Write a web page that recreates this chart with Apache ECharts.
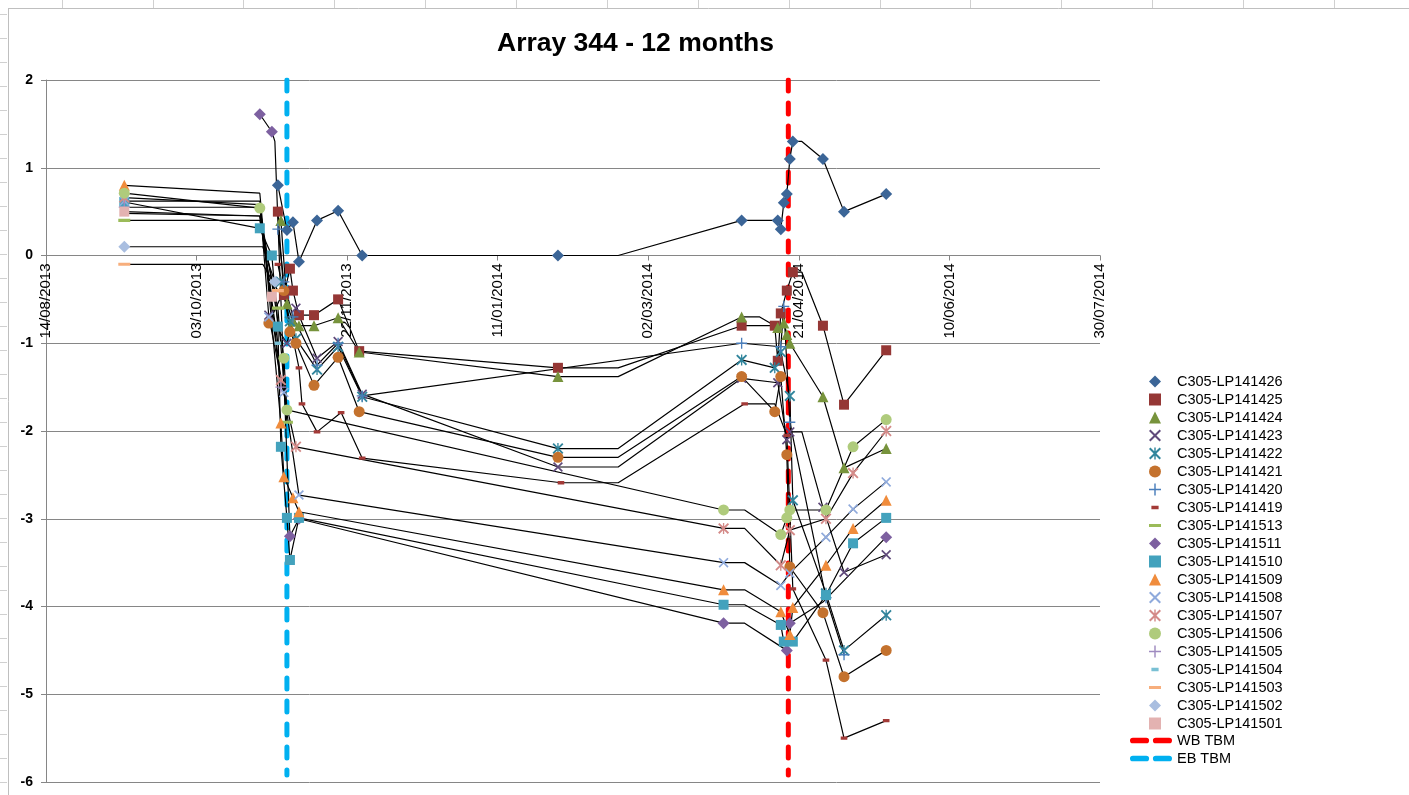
<!DOCTYPE html>
<html>
<head>
<meta charset="utf-8">
<script src="https://cdn.jsdelivr.net/npm/echarts@6/dist/echarts.min.js"></script>
<style>html,body{margin:0;padding:0;background:#fff}#c{width:1409px;height:795px}</style>
</head>
<body>
<div id="c"></div>
<script>
// ---------- DATA ----------
const chartTitle = 'Array 344 - 12 months';
const xTickLabels = ['14/08/2013','03/10/2013','22/11/2013','11/01/2014','02/03/2014','21/04/2014','10/06/2014','30/07/2014'];
const yTickMin = -6, yTickMax = 2, yTickStep = 1;

const seriesNames = ['C305-LP141426','C305-LP141425','C305-LP141424','C305-LP141423','C305-LP141422','C305-LP141421','C305-LP141420','C305-LP141419','C305-LP141513','C305-LP141511','C305-LP141510','C305-LP141509','C305-LP141508','C305-LP141507','C305-LP141506','C305-LP141505','C305-LP141504','C305-LP141503','C305-LP141502','C305-LP141501'];

// points: [date, value] ; a third element 0 means the line bends there without a marker
const P426 = [['2013-10-30',0.80],['2013-11-02',0.29],['2013-11-04',0.38],['2013-11-06',-0.07],['2013-11-12',0.40],['2013-11-19',0.51],['2013-11-27',0.00],['2014-01-31',0.00],['2014-02-20',0.00,0],['2014-04-02',0.40],['2014-04-14',0.40],['2014-04-15',0.30],['2014-04-16',0.60],['2014-04-17',0.70],['2014-04-18',1.10],['2014-04-19',1.30],['2014-04-22',1.30,0],['2014-04-29',1.10],['2014-05-06',0.50],['2014-05-20',0.70]];
const P425 = [['2013-10-30',0.50],['2013-11-01',-0.45],['2013-11-03',-0.15],['2013-11-04',-0.40],['2013-11-06',-0.68],['2013-11-11',-0.68],['2013-11-19',-0.50],['2013-11-26',-1.09],['2014-01-31',-1.28],['2014-02-20',-1.28,0],['2014-04-02',-0.80],['2014-04-13',-0.80],['2014-04-14',-1.20],['2014-04-15',-0.66],['2014-04-17',-0.40],['2014-04-19',-0.19],['2014-04-22',-0.19,0],['2014-04-29',-0.80],['2014-05-06',-1.70],['2014-05-20',-1.08]];
const P424 = [['2013-10-31',0.40],['2013-11-02',-0.55],['2013-11-04',-0.75],['2013-11-06',-0.80],['2013-11-11',-0.80],['2013-11-19',-0.71],['2013-11-26',-1.10],['2014-01-31',-1.38],['2014-02-20',-1.38,0],['2014-04-02',-0.70],['2014-04-08',-0.70,0],['2014-04-14',-0.82],['2014-04-16',-0.77],['2014-04-17',-0.90],['2014-04-18',-1.00],['2014-04-29',-1.61],['2014-05-06',-2.42],['2014-05-20',-2.20]];
const P423 = [['2013-10-27',-0.68],['2013-11-02',-1.00],['2013-11-05',-0.60],['2013-11-12',-1.17],['2013-11-19',-0.98],['2013-11-27',-1.58],['2014-01-31',-2.41],['2014-02-20',-2.41,0],['2014-04-02',-1.40],['2014-04-14',-1.45],['2014-04-17',-2.10],['2014-04-18',-2.01],['2014-04-22',-2.01,0],['2014-04-29',-2.87],['2014-05-06',-3.61],['2014-05-20',-3.41]];
const P422 = [['2013-10-31',-0.30],['2013-11-03',-0.75],['2013-11-05',-0.95],['2013-11-12',-1.30],['2013-11-19',-1.04],['2013-11-27',-1.61],['2014-01-31',-2.20],['2014-02-20',-2.20,0],['2014-04-02',-1.19],['2014-04-13',-1.28],['2014-04-15',-1.10],['2014-04-18',-1.60],['2014-04-19',-2.79],['2014-04-30',-3.85],['2014-05-06',-4.50],['2014-05-20',-4.10]];
const P421 = [['2013-10-27',-0.77],['2013-11-01',-0.40],['2013-11-03',-0.87],['2013-11-05',-1.00],['2013-11-11',-1.48],['2013-11-19',-1.16],['2013-11-26',-1.78],['2014-01-31',-2.30],['2014-02-20',-2.30,0],['2014-04-02',-1.38],['2014-04-13',-1.78],['2014-04-15',-1.38],['2014-04-17',-2.27],['2014-04-18',-3.55],['2014-04-29',-4.07],['2014-05-06',-4.80],['2014-05-20',-4.50]];
const P420 = [['2013-10-30',0.30],['2013-11-01',-0.30],['2013-11-04',-0.70],['2013-11-12',-1.25],['2013-11-19',-1.00],['2013-11-27',-1.60],['2014-04-02',-1.00],['2014-04-15',-1.04],['2014-04-16',-0.58],['2014-04-18',-1.90],['2014-04-30',-3.90],['2014-05-06',-4.55]];
const P419 = [['2013-10-30',-0.10],['2013-11-06',-1.28],['2013-11-07',-1.69],['2013-11-12',-2.01],['2013-11-20',-1.79],['2013-11-27',-2.31],['2014-02-01',-2.59],['2014-02-20',-2.59,0],['2014-04-03',-1.69],['2014-04-13',-1.69,0],['2014-04-17',-2.05],['2014-04-19',-3.80],['2014-04-30',-4.61],['2014-05-06',-5.50],['2014-05-20',-5.30]];
const P513 = [['2013-09-09',0.40],['2013-10-24',0.40,0],['2013-10-30',-0.60],['2013-11-02',-1.90]];
const P511 = [['2013-10-24',1.61],['2013-10-28',1.41],['2013-10-29',1.30,0],['2013-11-03',-3.20],['2013-11-06',-3.00],['2014-03-27',-4.19],['2014-04-03',-4.19,0],['2014-04-17',-4.50],['2014-04-18',-4.19],['2014-04-29',-3.95,0],['2014-05-20',-3.21]];
const P510 = [['2013-09-09',0.61],['2013-10-24',0.31],['2013-10-28',0.00],['2013-10-30',-0.81],['2013-10-31',-2.18],['2013-11-02',-2.99],['2013-11-03',-3.47],['2013-11-06',-2.99],['2014-03-27',-3.98],['2014-04-03',-3.98,0],['2014-04-15',-4.21],['2014-04-16',-4.40],['2014-04-19',-4.40],['2014-04-30',-3.87],['2014-05-09',-3.28],['2014-05-20',-2.99]];
const P509 = [['2013-09-09',0.80],['2013-10-24',0.71,0],['2013-10-31',-1.91],['2013-11-01',-2.52],['2013-11-04',-2.76],['2013-11-06',-2.92],['2014-03-27',-3.81],['2014-04-03',-3.81,0],['2014-04-15',-4.06],['2014-04-18',-4.32],['2014-04-19',-4.01],['2014-04-30',-3.53],['2014-05-09',-3.11],['2014-05-20',-2.79]];
const P508 = [['2013-09-09',0.62],['2013-10-24',0.62,0],['2013-10-27',-0.70],['2013-11-01',-1.56],['2013-11-06',-2.73],['2014-03-27',-3.50],['2014-04-03',-3.50,0],['2014-04-15',-3.76],['2014-04-18',-3.62],['2014-04-30',-3.21],['2014-05-09',-2.89],['2014-05-20',-2.58]];
const P507 = [['2013-09-09',0.66],['2013-10-24',0.58,0],['2013-10-31',-1.42],['2013-11-05',-2.18],['2014-03-27',-3.11],['2014-04-03',-3.11,0],['2014-04-15',-3.53],['2014-04-18',-3.13],['2014-04-30',-3.00],['2014-05-09',-2.48],['2014-05-20',-2.00]];
const P506 = [['2013-09-09',0.71],['2013-10-24',0.54],['2013-11-01',-1.17],['2013-11-02',-1.76],['2013-11-07',-1.80,0],['2014-03-27',-2.90],['2014-04-03',-2.90,0],['2014-04-15',-3.18],['2014-04-17',-2.99],['2014-04-18',-2.90],['2014-04-30',-2.90],['2014-05-09',-2.18],['2014-05-20',-1.87]];
const P505 = [['2013-09-09',0.55],['2013-10-24',0.55,0],['2013-10-31',-1.50]];
const P504 = [['2013-09-09',0.48],['2013-10-24',0.45,0],['2013-10-30',-1.00]];
const P503 = [['2013-09-09',-0.10],['2013-10-25',-0.10,0],['2013-10-30',-0.40]];
const P502 = [['2013-09-09',0.10],['2013-10-25',0.10,0],['2013-10-29',-0.30]];
const P501 = [['2013-09-09',0.50],['2013-10-24',0.45,0],['2013-10-28',-0.47]];
const seriesPoints = [P426,P425,P424,P423,P422,P421,P420,P419,P513,P511,P510,P509,P508,P507,P506,P505,P504,P503,P502,P501];

const tbmNames = ['WB TBM','EB TBM'];
const tbmDates = ['2014-04-17 12:00','2013-11-02'];
const tbmSpan = [2, -5.92];

// ---------- STYLE ----------
const seriesColors = ['#3B6597','#953735','#77933C','#604A7B','#31859C','#C4722E','#4A7EBB','#A33A37','#9BBB59','#7D60A0','#43A2BD','#F08C3C','#8FAADC','#D48A88','#AFCB7C','#9F8BC0','#79C0D4','#F7AE7C','#A9BEE0','#E3B2B1'];
const seriesShapes = ['diamond','rect','triangle','x','star','circle','plus','dashS','dashL','diamond','rect','triangle','x','star','circle','plus','dashS','dashL','diamond','rect'];
const tbmColors = ['#FF0000','#00B0F0'];
const CORNERS = 'M0,0L0.01,0L0,0.01Z M10,10L9.99,10L10,9.99Z ';
const SYM = {
  diamond: 'diamond', rect: 'rect', triangle: 'triangle', circle: 'circle',
  x: 'path://M0,1.2L1.2,0L5,3.8L8.8,0L10,1.2L6.2,5L10,8.8L8.8,10L5,6.2L1.2,10L0,8.8L3.8,5Z',
  star: 'path://M0,1.2L1.2,0L5,3.8L8.8,0L10,1.2L6.2,5L10,8.8L8.8,10L5,6.2L1.2,10L0,8.8L3.8,5Z M4.4,0H5.6V10H4.4Z',
  plus: 'path://M4.4,0H5.6V4.4H10V5.6H5.6V10H4.4V5.6H0V4.4H4.4Z',
  dashS: 'path://' + CORNERS + 'M2,3.5H8V6.5H2Z',
  dashL: 'path://' + CORNERS + 'M0,3.7H10V6.3H0Z'
};
const SIZE = {diamond:12, rect:10, triangle:11, circle:11, x:10, star:11, plus:11, dashS:11, dashL:12};
const TBM_ICON = 'path://M3,0H17A3,3,0,0,1,17,6H3A3,3,0,0,1,3,0Z M27,0H41A3,3,0,0,1,41,6H27A3,3,0,0,1,27,0Z';

const T0 = Date.UTC(2013,7,14);
function toDay(s){
  const parts = s.split(' ');
  const d = parts[0].split('-').map(Number);
  let ms = Date.UTC(d[0], d[1]-1, d[2]);
  if (parts[1]) { const t = parts[1].split(':').map(Number); ms += (t[0]*60 + t[1])*60000; }
  return (ms - T0)/86400000;
}
const XSTEP = 50;
const GRID_TOP = 80, GRID_BOTTOM = 13, CHART_H = 795;
// x axis crosses the y axis at value 0
const plotH = CHART_H - GRID_TOP - GRID_BOTTOM;
const zeroOffset = -plotH * (0 - yTickMin) / (yTickMax - yTickMin);

const series = [];
tbmNames.forEach((n,i)=>{
  const d = toDay(tbmDates[i]);
  series.push({name:n, type:'line', data: tbmSpan.map(v=>[d,v]), symbol:'none', color: tbmColors[i],
    itemStyle:{color:tbmColors[i]},
    lineStyle:{color:tbmColors[i], width:5, type:[11,12], cap:'round'}, z:1, silent:true, animation:false});
});
seriesNames.forEach((n,i)=>{
  const pts = seriesPoints[i];
  series.push({name:n+' line', type:'line', data: pts.map(p=>[toDay(p[0]),p[1]]), symbol:'none', color:'#000',
    lineStyle:{color:'#000', width:1.2}, z:2, silent:true, animation:false});
  series.push({name:n, type:'scatter', data: pts.filter(p=>p[2]!==0).map(p=>[toDay(p[0]),p[1]]),
    symbol: SYM[seriesShapes[i]], symbolSize: SIZE[seriesShapes[i]], color: seriesColors[i],
    itemStyle:{color: seriesColors[i], opacity:1}, z:2, silent:true, animation:false});
});

const graphics = [];
[62,153,243,334,425,516,607,698,789,880,970,1061,1152,1243,1334].forEach(x=>{
  graphics.push({type:'line', shape:{x1:x+0.5,y1:0,x2:x+0.5,y2:8}, style:{stroke:'#D0D0D0', lineWidth:1}, silent:true});
});
for (let y = 14; y < 795; y += 24) {
  graphics.push({type:'line', shape:{x1:0,y1:y+0.5,x2:7,y2:y+0.5}, style:{stroke:'#D0D0D0', lineWidth:1}, silent:true});
}
graphics.push({type:'line', shape:{x1:8,y1:8.5,x2:1409,y2:8.5}, style:{stroke:'#BFBFBF', lineWidth:1}, silent:true});
graphics.push({type:'line', shape:{x1:8.5,y1:8,x2:8.5,y2:795}, style:{stroke:'#BFBFBF', lineWidth:1}, silent:true});

const FONT = 'Liberation Sans, Arial, sans-serif';
const chart = echarts.init(document.getElementById('c'), null, {renderer:'canvas'});
chart.setOption({
  animation:false,
  backgroundColor:'#ffffff',
  textStyle:{fontFamily:FONT, color:'#000'},
  title:{text: chartTitle, left:492, top:25, textStyle:{fontSize:26.5, fontWeight:'bold', color:'#000', fontFamily:FONT}},
  grid:{left:46, right:309, top:GRID_TOP, bottom:GRID_BOTTOM, containLabel:false},
  legend:[
    {orient:'vertical', left:1144, top:369, itemWidth:12, itemHeight:12, itemGap:3, selectedMode:false,
     data: seriesNames.map((n,i)=>({name:n, icon: SYM[seriesShapes[i]]})),
     textStyle:{fontSize:14.5, color:'#000', padding:[0,0,0,11], fontFamily:FONT}},
    {orient:'vertical', left:1125, top:728, itemWidth:42, itemHeight:12, itemGap:3, selectedMode:false,
     data: tbmNames.map(n=>({name:n, icon: TBM_ICON})),
     textStyle:{fontSize:14.5, color:'#000', fontFamily:FONT}}
  ],
  xAxis:{type:'value', min:0, max:XSTEP*(xTickLabels.length-1), interval:XSTEP, position:'bottom', offset: zeroOffset,
    axisLine:{show:true, onZero:false, lineStyle:{color:'#868686', width:1}},
    axisTick:{show:true, length:5, lineStyle:{color:'#868686'}},
    axisLabel:{rotate:90, fontSize:15, color:'#000', margin:8, formatter:(v)=>xTickLabels[Math.round(v/XSTEP)]},
    splitLine:{show:false}},
  yAxis:{type:'value', min:yTickMin, max:yTickMax, interval:yTickStep,
    axisLine:{show:true, lineStyle:{color:'#868686', width:1}},
    axisTick:{show:true, length:5, lineStyle:{color:'#868686'}},
    axisLabel:{fontSize:14, fontWeight:'bold', color:'#000', margin:13},
    splitLine:{show:true, lineStyle:{color:'#868686', width:1}}},
  graphic: graphics,
  series: series
});
</script>
</body>
</html>
